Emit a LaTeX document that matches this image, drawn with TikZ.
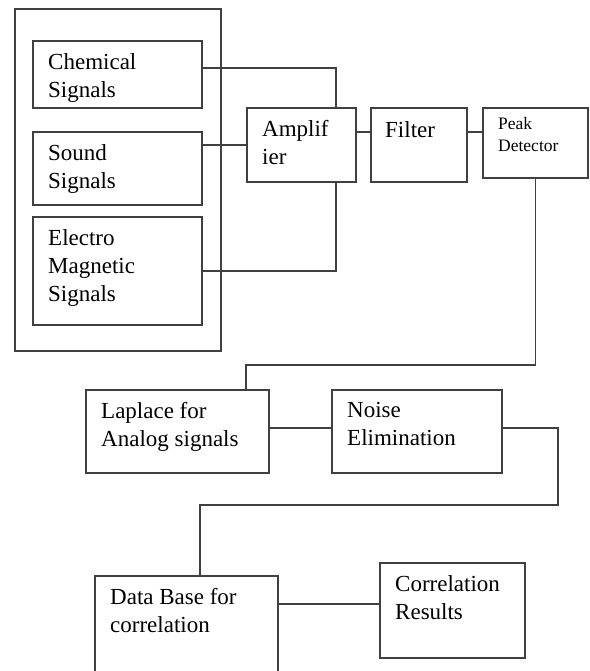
\documentclass[tikz,border=0pt]{standalone}
\usepackage{fontspec}
\setmainfont{Liberation Serif}
\usetikzlibrary{positioning}

\begin{document}
\begin{tikzpicture}[x=1pt,y=-1pt,
  blk/.style={draw, line width=1.2pt, color=black!75, anchor=north west, inner sep=0pt, outer sep=0pt},
  lbl/.style={anchor=north west, align=left, inner xsep=15pt, inner ysep=12pt, text=black, font=\fontsize{23}{28}\selectfont},
  wire/.style={draw, line width=1.2pt, color=black!75}]
\useasboundingbox (0,0) rectangle (589,671);
\clip (0,0) rectangle (589,671);
\node[blk, minimum width=206pt, minimum height=342pt] (OUT) at (15,9) {};
\node[blk, minimum width=169pt, minimum height=67pt] (CHEM) at (33,41) {};
\node[blk, minimum width=169pt, minimum height=73pt] (SOUND) at (33,132) {};
\node[blk, minimum width=169pt, minimum height=108pt] (ELEC) at (33,217) {};
\node[blk, minimum width=109pt, minimum height=74pt] (AMP) at (247,108) {};
\node[blk, minimum width=96pt, minimum height=74pt] (FILT) at (371,108) {};
\node[blk, minimum width=105pt, minimum height=70pt] (PEAK) at (483,108) {};
\node[blk, minimum width=183pt, minimum height=83pt] (LAP) at (86,390) {};
\node[blk, minimum width=170pt, minimum height=83pt] (NOISE) at (332,390) {};
\node[blk, minimum width=183pt, minimum height=110pt] (DB) at (95,576) {};
\node[blk, minimum width=145pt, minimum height=95pt] (CORR) at (380,563) {};
% box texts
\node[lbl] (CHEMt) at (CHEM.north west) {Chemical\\Signals};
\node[lbl] (SOUNDt) at (SOUND.north west) {Sound\\Signals};
\node[lbl] (ELECt) at (ELEC.north west) {Electro\\Magnetic\\Signals};
\node[lbl] (AMPt) at (AMP.north west) {Amplif\\ier};
\node[lbl, inner xsep=14pt, inner ysep=13pt] (FILTt) at (FILT.north west) {Filter};
\node[lbl, inner ysep=9pt, font=\fontsize{17.5}{22}\selectfont] (PEAKt) at (PEAK.north west) {Peak\\Detector};
\node[lbl] (LAPt) at (LAP.north west) {Laplace for\\Analog signals};
\node[lbl] (NOISEt) at (NOISE.north west) {Noise\\Elimination};
\node[lbl] (DBt) at (DB.north west) {Data Base for\\correlation};
\node[lbl] (CORRt) at (CORR.north west) {Correlation\\Results};
% connectors
\path [wire] ([yshift=6.5pt]CHEM.east) -| ([xshift=34.5pt]AMP.north);
\path [wire] (SOUND.east |- AMP.west) -- (AMP.west);
\path [wire] (ELEC.east) -| ([xshift=34.5pt]AMP.south);
\path [wire] ([yshift=13pt]AMP.east) -- ([yshift=13pt]FILT.west);
\path [wire] ([yshift=13pt]FILT.east) -- ([yshift=11pt]PEAK.west);
\path [wire] (PEAK.south) -- ++(0,187) -| ([xshift=68.5pt]LAP.north);
\path [wire] ([yshift=3.5pt]LAP.east) -- ([yshift=3.5pt]NOISE.west);
\path [wire] ([yshift=3.5pt]NOISE.east) -- ++(56,0) -- ++(0,77) -| ([xshift=13.5pt]DB.north);
\path [wire] ([yshift=-28pt]DB.north east) -- ([yshift=6.5pt]CORR.west);
\end{tikzpicture}
\end{document}
